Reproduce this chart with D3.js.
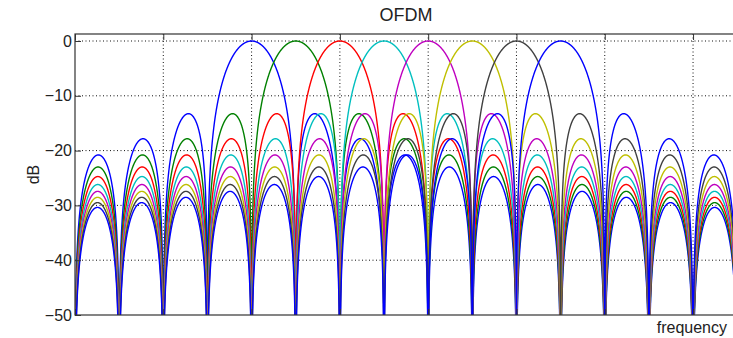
<!DOCTYPE html>
<html>
<head>
<meta charset="utf-8">
<script src="https://cdn.jsdelivr.net/npm/d3@7"></script>
<style>
    body { margin: 0; background: #fff; }
    text { font-family: "Liberation Sans", Arial, sans-serif; fill: #222; }
</style>
</head>
<body>
<div id="chart"></div>
<script>
// subcarrier centre frequencies (in subcarrier spacings) and their line colours
const subcarrierCenters = [0, 1, 2, 3, 4, 5, 6, 7];
const seriesColors = ['#0000ff', '#008000', '#ff0000', '#00bfbf', '#bf00bf', '#bfbf00', '#404040', '#0000ff'];

// axes
const freqLimits = [-4, 11];
const dbLimits = [-50, 1.28];
const xTickValues = [-4, -2, 0, 2, 4, 6, 8, 10];
const yTickValues = [0, -10, -20, -30, -40, -50];
const titleText = 'OFDM';
const xLabelText = 'frequency';
const yLabelText = 'dB';

var width = 733, height = 338;
var margin = { top: 34, left: 75, bottom: 23 };
var plotRight = 737.2;
var plotBottom = height - margin.bottom;

var svg = d3.select('#chart')
    .append('svg')
    .attr('width', width)
    .attr('height', height);

var xScale = d3.scaleLinear().domain(freqLimits).range([margin.left, plotRight]);
var yScale = d3.scaleLinear().domain(dbLimits).range([plotBottom, margin.top]);

svg.append('clipPath')
    .attr('id', 'plot-clip')
    .append('rect')
    .attr('x', margin.left)
    .attr('y', margin.top)
    .attr('width', plotRight - margin.left)
    .attr('height', plotBottom - margin.top);

// grid (dotted)
var grid = svg.append('g').attr('clip-path', 'url(#plot-clip)');
grid.selectAll('line.vgrid')
    .data(xTickValues.filter(d => d > freqLimits[0]))
    .join('line')
    .attr('x1', d => xScale(d)).attr('x2', d => xScale(d))
    .attr('y1', margin.top).attr('y2', plotBottom)
    .attr('stroke', '#111')
    .attr('stroke-width', 1)
    .attr('stroke-dasharray', '1,2.5');
grid.selectAll('line.hgrid')
    .data(yTickValues.filter(d => d > dbLimits[0]))
    .join('line')
    .attr('x1', margin.left).attr('x2', plotRight)
    .attr('y1', d => yScale(d)).attr('y2', d => yScale(d))
    .attr('stroke', '#111')
    .attr('stroke-width', 1)
    .attr('stroke-dasharray', '1,2.5');

// spectrum of each subcarrier: |sinc(f - fk)|^2 in dB
var step = 0.004;
var freqs = d3.range(freqLimits[0], freqLimits[1] + step / 2, step);
function sincDb(x) {
    if (Math.abs(x) < 1e-9) return 0;
    var s = Math.abs(Math.sin(Math.PI * x) / (Math.PI * x));
    return Math.max(20 * Math.log10(s), -90);
}

var line = d3.line()
    .x(d => xScale(d[0]))
    .y(d => yScale(d[1]));

var curves = svg.append('g').attr('clip-path', 'url(#plot-clip)');
subcarrierCenters.forEach((fk, i) => {
    curves.append('path')
        .datum(freqs.map(f => [f, sincDb(f - fk)]))
        .attr('fill', 'none')
        .attr('stroke', seriesColors[i])
        .attr('stroke-width', 1.4)
        .attr('d', line);
});

// axes (ticks point inward like MATLAB)
var yAxis = svg.append('g')
    .attr('transform', `translate(${margin.left},0)`)
    .call(d3.axisLeft(yScale).tickValues(yTickValues).tickSize(-6).tickPadding(3)
        .tickFormat(d => d < 0 ? '\u2212' + Math.abs(d) : d));
yAxis.select('.domain').remove();
yAxis.selectAll('text').attr('font-size', '16px').attr('fill', '#222');
yAxis.selectAll('line').attr('stroke', '#333');

var xTop = svg.append('g')
    .attr('transform', `translate(0,${margin.top})`)
    .call(d3.axisTop(xScale).tickValues(xTickValues).tickSize(-6).tickFormat(''));
xTop.select('.domain').remove();
xTop.selectAll('line').attr('stroke', '#333');

var xBottom = svg.append('g')
    .attr('transform', `translate(0,${plotBottom})`)
    .call(d3.axisBottom(xScale).tickValues(xTickValues).tickSize(-6).tickFormat(''));
xBottom.select('.domain').remove();
xBottom.selectAll('line').attr('stroke', '#333');

// box
svg.append('rect')
    .attr('x', margin.left)
    .attr('y', margin.top)
    .attr('width', plotRight - margin.left)
    .attr('height', plotBottom - margin.top)
    .attr('fill', 'none')
    .attr('stroke', '#333')
    .attr('stroke-width', 1.2);

// labels
svg.append('text')
    .attr('x', (margin.left + plotRight) / 2)
    .attr('y', 21)
    .attr('text-anchor', 'middle')
    .attr('font-size', '18px')
    .text(titleText);

svg.append('text')
    .attr('x', 727)
    .attr('y', 333)
    .attr('text-anchor', 'end')
    .attr('font-size', '16px')
    .text(xLabelText);

svg.append('text')
    .attr('transform', `translate(39,${(margin.top + plotBottom) / 2}) rotate(-90)`)
    .attr('text-anchor', 'middle')
    .attr('font-size', '16px')
    .text(yLabelText);
</script>
</body>
</html>
